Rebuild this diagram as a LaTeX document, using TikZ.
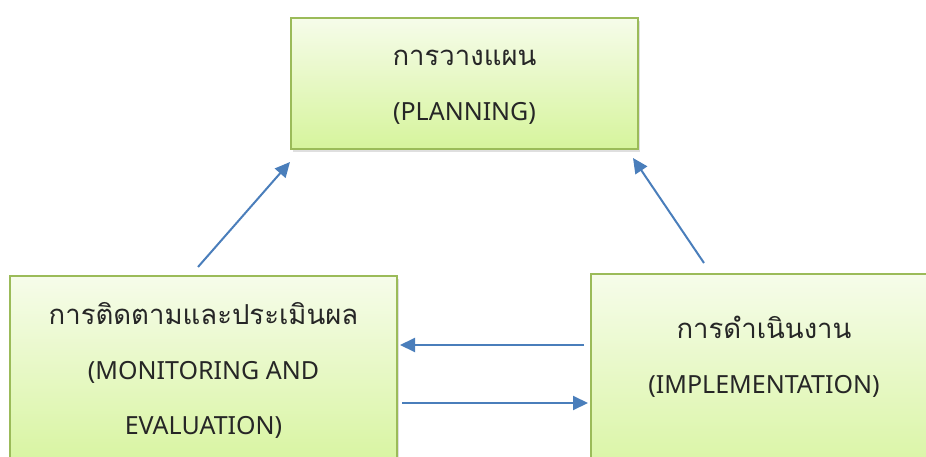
\documentclass[tikz,border=0pt]{standalone}
\usepackage{fontspec}
\setmainfont{Noto Sans}
\newfontfamily\thaifont[Script=Thai, Scale=1.1]{Loma}
\usetikzlibrary{calc}
\usetikzlibrary{arrows.meta, shadows}
\definecolor{boxline}{HTML}{9BBB59}
\definecolor{boxtop}{HTML}{F6FCEA}
\definecolor{boxbottom}{HTML}{D6F49C}
\definecolor{flowblue}{HTML}{4A7EBB}
\tikzset{
  greenbox/.style={draw=boxline, line width=2pt, top color=boxtop, bottom color=boxbottom,
    anchor=north west, drop shadow={opacity=0.25, shadow xshift=2pt, shadow yshift=-3pt}},
  boxtext/.style={align=center, font=\fontsize{25}{55}\selectfont, text=black!85},
  flow/.style={draw=flowblue, line width=2pt, -{Triangle[length=15pt, width=14pt]}}
}

\begin{document}
\begin{tikzpicture}[x=1pt, y=-1pt]

\useasboundingbox (0,0) rectangle (926,457);
\clip (0,0) rectangle (926,457);

\node[greenbox, minimum width=347pt, minimum height=131pt] (planBox) at (290,17) {};
\node[greenbox, minimum width=387pt, minimum height=200pt] (monBox) at (9,275) {};
\node[greenbox, minimum width=360pt, minimum height=220pt] (implBox) at (590,273) {};

\node[boxtext] (planText) at ($(planBox.north)+(0,70)$) {{\thaifont การวางแผน}\\(PLANNING)};
\node[boxtext] (monText) at ($(monBox.north)+(0,95)$) {{\thaifont การติดตามและประเมินผล}\\(MONITORING AND\\EVALUATION)};
\node[boxtext] (implText) at ($(implBox.north west)+(174,84)$) {{\thaifont การดำเนินงาน}\\(IMPLEMENTATION)};

\coordinate (monUp) at (198,267);
\coordinate (planLeftIn) at (290,162);
\coordinate (implUp) at (704,263);
\coordinate (planRightIn) at (633,158);
\coordinate (implBack) at (584,345);
\coordinate (monIn) at (400,345);
\coordinate (monOut) at (402,403);
\coordinate (implIn) at (588,403);

\draw [flow] (monUp) -- (planLeftIn);
\draw [flow] (implUp) -- (planRightIn);
\draw [flow] (implBack) -- (monIn);
\draw [flow] (monOut) -- (implIn);

\end{tikzpicture}
\end{document}
